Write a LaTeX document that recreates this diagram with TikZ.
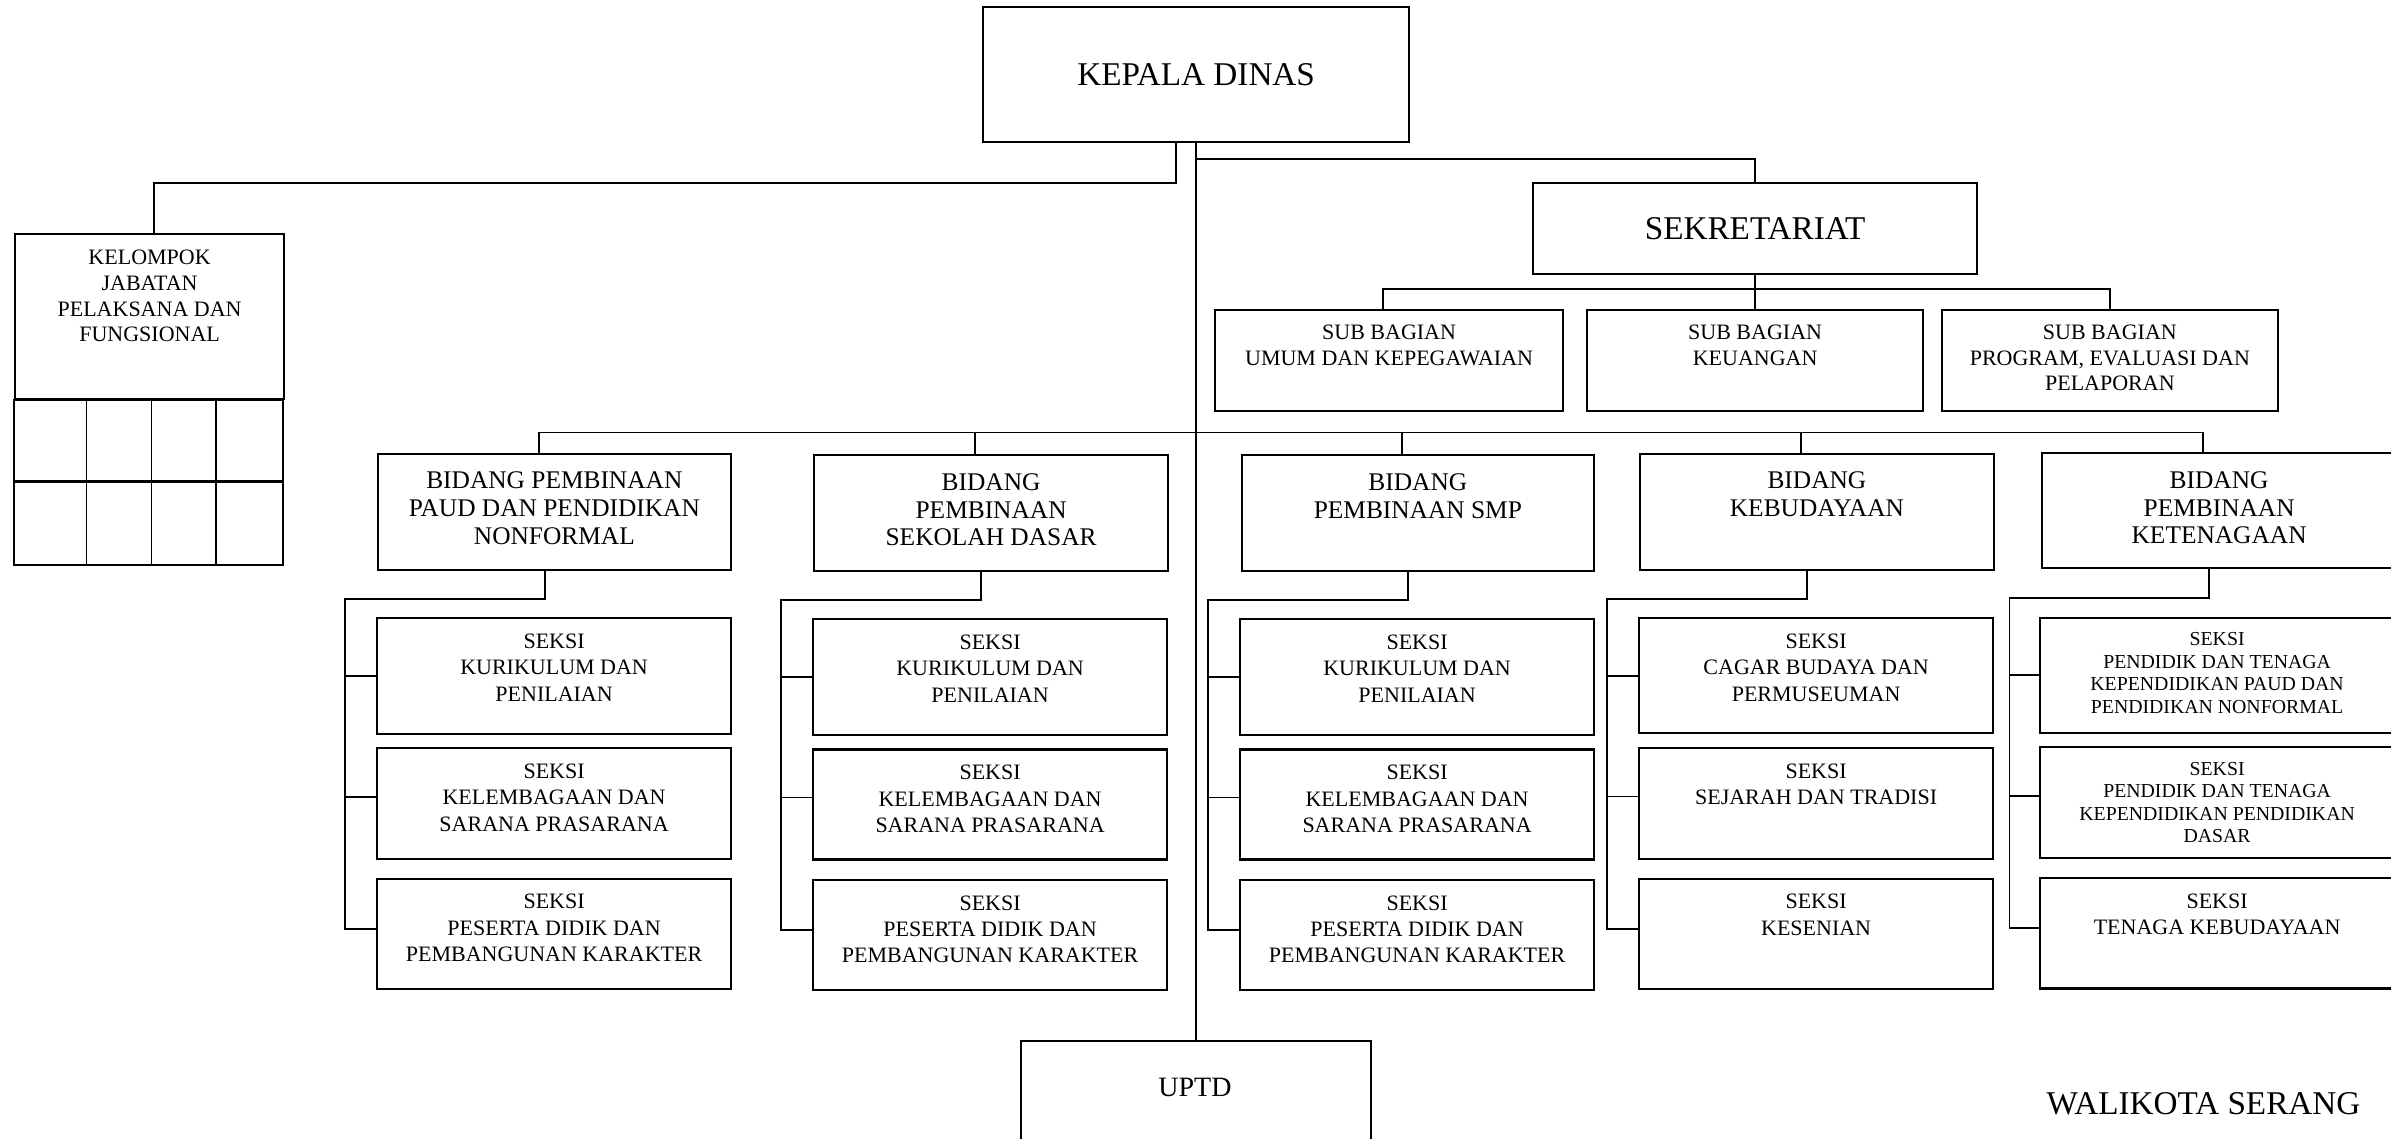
\documentclass[tikz,border=0pt]{standalone}
\usepackage{fontspec}
\setmainfont{Liberation Serif}
\begin{document}
\begin{tikzpicture}[x=0.5pt,y=-0.5pt,
  box/.style={draw, line width=1.1pt, inner sep=0pt, anchor=north west},
  conn/.style={line width=0.9pt},
  tbig/.style={inner sep=0pt, font=\fontsize{16.6}{19}\selectfont},
  tsub/.style={anchor=north, inner sep=0pt, align=center, font=\fontsize{11}{12.75}\selectfont},
  tbid/.style={anchor=north, inner sep=0pt, align=center, font=\fontsize{12.7}{13.9}\selectfont},
  tsek/.style={anchor=north, inner sep=0pt, align=center, font=\fontsize{11}{13.2}\selectfont},
  tsml/.style={anchor=north, inner sep=0pt, align=center, font=\fontsize{9.9}{11.3}\selectfont},
  tkel/.style={anchor=north, inner sep=0pt, align=center, font=\fontsize{11}{12.85}\selectfont}
]
\useasboundingbox (0,0) rectangle (2391,1139);

% ---- boxes ----
\node[box, minimum width=213pt, minimum height=67.5pt] (kd) at (982,6) {};
\node[box, minimum width=222pt, minimum height=45.25pt] (sek) at (1532,182) {};
\node[box, minimum width=174pt, minimum height=50.5pt] (sb1) at (1214,308.5) {};
\node[box, minimum width=168pt, minimum height=50.5pt] (sb2) at (1586,308.5) {};
\node[box, minimum width=167.75pt, minimum height=50.5pt] (sb3) at (1941,308.5) {};
\node[box, minimum width=134.5pt, minimum height=82.65pt] (kel) at (14,232.7) {};

\node[box, minimum width=176.75pt, minimum height=58pt] (b1) at (376.5,452.7) {};
\node[box, minimum width=177pt, minimum height=58pt] (b2) at (813,454) {};
\node[box, minimum width=176.25pt, minimum height=57.75pt] (b3) at (1240.5,454) {};
\node[box, minimum width=176.8pt, minimum height=58pt] (b4) at (1639,452.7) {};
\node[box, minimum width=177pt, minimum height=57.4pt] (b5) at (2041,452) {};

\node[box, minimum width=177pt, minimum height=58pt] (s11) at (376,617) {};
\node[box, minimum width=177pt, minimum height=55.5pt] (s12) at (376,747) {};
\node[box, minimum width=177pt, minimum height=55.2pt] (s13) at (376,877.6) {};
\node[box, minimum width=177pt, minimum height=57.85pt] (s21) at (812,618) {};
\node[box, minimum width=177pt, minimum height=55pt] (s22) at (812,748.3) {};
\node[box, minimum width=177pt, minimum height=55pt] (s23) at (812,878.7) {};
\node[box, minimum width=177pt, minimum height=57.85pt] (s31) at (1239,618) {};
\node[box, minimum width=177pt, minimum height=55pt] (s32) at (1239,748.3) {};
\node[box, minimum width=177pt, minimum height=55pt] (s33) at (1239,878.7) {};
\node[box, minimum width=177pt, minimum height=57.5pt] (s41) at (1638,617.2) {};
\node[box, minimum width=177pt, minimum height=55.25pt] (s42) at (1638,747.2) {};
\node[box, minimum width=177pt, minimum height=55.2pt] (s43) at (1638,877.6) {};
\node[box, minimum width=177pt, minimum height=57.5pt] (s51) at (2039,616.5) {};
\node[box, minimum width=177pt, minimum height=55.5pt] (s52) at (2039,746) {};
\node[box, minimum width=177pt, minimum height=55.25pt] (s53) at (2039,876.8) {};

\node[box, minimum width=175pt, minimum height=100pt] (uptd) at (1020,1040) {};

% ---- kelompok grid ----
\draw[line width=1.1pt] (kel.south west) rectangle (283,565);
\draw[line width=1.1pt] (14,481.4) -- (283,481.4);
\draw[line width=0.9pt] (86.5,398) -- (86.5,565) (151.5,398) -- (151.5,565) (216,398) -- (216,565);

% ---- texts ----
\node[tbig] (t-kd) at (kd.center) {KEPALA DINAS};
\node[tbig] (t-sek) at (sek.center) {SEKRETARIAT};
\node[tsub] (t-sb1) at ([yshift=-8.25pt]sb1.north) {SUB BAGIAN\\UMUM DAN KEPEGAWAIAN};
\node[tsub] (t-sb2) at ([yshift=-8.25pt]sb2.north) {SUB BAGIAN\\KEUANGAN};
\node[tsub] (t-sb3) at ([yshift=-8.25pt]sb3.north) {SUB BAGIAN\\PROGRAM, EVALUASI DAN\\PELAPORAN};
\node[tkel] (t-kel) at ([yshift=-8.5pt]kel.north) {KELOMPOK\\JABATAN\\PELAKSANA DAN\\FUNGSIONAL};

\node[tbid] (t-b1) at ([yshift=-9.5pt]b1.north) {BIDANG PEMBINAAN\\PAUD DAN PENDIDIKAN\\NONFORMAL};
\node[tbid] (t-b2) at ([yshift=-9.5pt]b2.north) {BIDANG\\PEMBINAAN\\SEKOLAH DASAR};
\node[tbid] (t-b3) at ([yshift=-9.5pt]b3.north) {BIDANG\\PEMBINAAN SMP};
\node[tbid] (t-b4) at ([yshift=-9.5pt]b4.north) {BIDANG\\KEBUDAYAAN};
\node[tbid] (t-b5) at ([yshift=-9.5pt]b5.north) {BIDANG\\PEMBINAAN\\KETENAGAAN};

\node[tsek] (t-s11) at ([yshift=-8.2pt]s11.north) {SEKSI\\KURIKULUM DAN\\PENILAIAN};
\node[tsek] (t-s12) at ([yshift=-8.2pt]s12.north) {SEKSI\\KELEMBAGAAN DAN\\SARANA PRASARANA};
\node[tsek] (t-s13) at ([yshift=-8.2pt]s13.north) {SEKSI\\PESERTA DIDIK DAN\\PEMBANGUNAN KARAKTER};
\node[tsek] (t-s21) at ([yshift=-8.2pt]s21.north) {SEKSI\\KURIKULUM DAN\\PENILAIAN};
\node[tsek] (t-s22) at ([yshift=-8.2pt]s22.north) {SEKSI\\KELEMBAGAAN DAN\\SARANA PRASARANA};
\node[tsek] (t-s23) at ([yshift=-8.2pt]s23.north) {SEKSI\\PESERTA DIDIK DAN\\PEMBANGUNAN KARAKTER};
\node[tsek] (t-s31) at ([yshift=-8.2pt]s31.north) {SEKSI\\KURIKULUM DAN\\PENILAIAN};
\node[tsek] (t-s32) at ([yshift=-8.2pt]s32.north) {SEKSI\\KELEMBAGAAN DAN\\SARANA PRASARANA};
\node[tsek] (t-s33) at ([yshift=-8.2pt]s33.north) {SEKSI\\PESERTA DIDIK DAN\\PEMBANGUNAN KARAKTER};
\node[tsek] (t-s41) at ([yshift=-8.2pt]s41.north) {SEKSI\\CAGAR BUDAYA DAN\\PERMUSEUMAN};
\node[tsek] (t-s42) at ([yshift=-8.2pt]s42.north) {SEKSI\\SEJARAH DAN TRADISI};
\node[tsek] (t-s43) at ([yshift=-8.2pt]s43.north) {SEKSI\\KESENIAN};
\node[tsml] (t-s51) at ([yshift=-7.75pt]s51.north) {SEKSI\\PENDIDIK DAN TENAGA\\KEPENDIDIKAN PAUD DAN\\PENDIDIKAN NONFORMAL};
\node[tsml] (t-s52) at ([yshift=-7.75pt]s52.north) {SEKSI\\PENDIDIK DAN TENAGA\\KEPENDIDIKAN PENDIDIKAN\\DASAR};
\node[tsek] (t-s53) at ([yshift=-8.2pt]s53.north) {SEKSI\\TENAGA KEBUDAYAAN};

\node[inner sep=0pt, font=\fontsize{14}{16}\selectfont] (t-uptd) at (1195,1087) {UPTD};
\node[inner sep=0pt, font=\fontsize{16.6}{19}\selectfont] (walikota) at (2203.5,1104) {WALIKOTA SERANG};

% ---- connectors ----
\coordinate (jk) at (154,183);
\coordinate (js) at (1195,159);
\coordinate (jsb) at (1754,288.6);
\coordinate (jb) at (1195,432.5);

\draw[conn] ([xshift=-10pt]kd.south) |- (jk) -- (jk |- kel.north);
\draw[conn] (kd.south) -- (uptd.north);
\draw[conn] (js) -| (sek.north);

\draw[conn] (sek.south) -- (sb2.north);
\draw[conn] ([xshift=-3pt]sb1.north) -- ([xshift=-3pt]sb1.north |- jsb) -- (sb3.north |- jsb) -- (sb3.north);

\draw[conn] ([xshift=-7.5pt]b1.north) -- ([xshift=-7.5pt]b1.north |- jb) -- ([xshift=-8pt]b5.north |- jb) -- ([xshift=-8pt]b5.north);
\draw[conn] ([xshift=-8pt]b2.north |- jb) -- ([xshift=-8pt]b2.north);
\draw[conn] ([xshift=-8pt]b3.north |- jb) -- ([xshift=-8pt]b3.north);
\draw[conn] ([xshift=-8pt]b4.north |- jb) -- ([xshift=-8pt]b4.north);

% seksi branches
\coordinate (k1) at (345,598.8);
\coordinate (k2) at (781,599.6);
\coordinate (k3) at (1207.6,599.6);
\coordinate (k4) at (1607,598.8);
\coordinate (k5) at (2009.4,598);
\foreach \c/\dx in {1/-4.5pt,2/-5pt,3/-5pt,4/-5pt,5/-5pt}{
  \coordinate (p\c2) at ([yshift=3.5pt]s\c2.west);
  \coordinate (p\c3) at ([yshift=2.5pt]s\c3.west);
  \draw[conn] ([xshift=\dx]b\c.south) |- (k\c) |- (p\c3);
  \draw[conn] (k\c |- s\c1.west) -- (s\c1.west);
  \draw[conn] (k\c |- p\c2) -- (p\c2);
}
\end{tikzpicture}
\end{document}
